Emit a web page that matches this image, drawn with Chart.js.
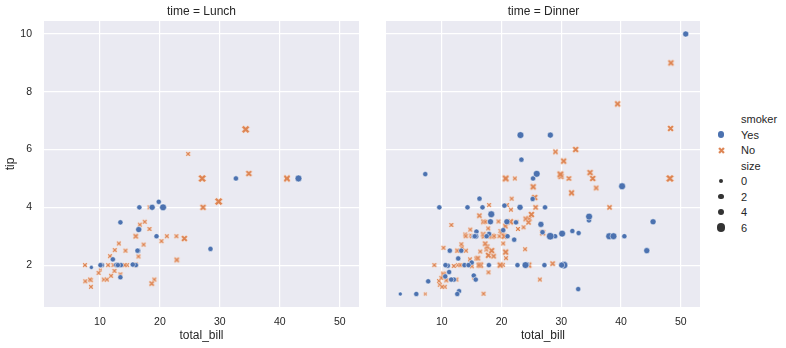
<!DOCTYPE html>
<html>
<head>
<meta charset="utf-8">
<script src="https://cdn.jsdelivr.net/npm/chart.js@4.4.0/dist/chart.umd.min.js"></script>
<style>
  body { margin: 0; background: #fff; font-family: "Liberation Sans", Arial, sans-serif; color: #262626; }
  #wrap { position: relative; width: 786px; height: 348px; overflow: hidden; }
  #wrap canvas.panel { position: absolute; top: 0; }
  .title { position: absolute; top: 4px; font-size: 12px; line-height: 14px; transform: translateX(-50%); white-space: nowrap; }
  .lg { position: absolute; left: 741px; font-size: 11px; line-height: 14px; white-space: nowrap; }
  .dot { position: absolute; border-radius: 50%; }
</style>
</head>
<body>
<div id="wrap">
  <canvas id="lunch" class="panel" width="365" height="348" style="left:0px"></canvas>
  <canvas id="dinner" class="panel" width="325" height="348" style="left:380px"></canvas>
  <div class="title" style="left:201.5px">time = Lunch</div>
  <div class="title" style="left:543.5px">time = Dinner</div>
  <div id="legend"></div>
</div>
<script>
// tips data, split by time and smoker
let lunchYesBill = [19.44, 32.68, 16.0, 19.81, 28.44, 15.48, 16.58, 10.34, 43.11, 13.0, 13.51, 18.71, 12.74, 13.0, 16.4, 20.53, 16.47, 12.16, 13.42, 8.58, 13.42, 16.27, 10.09];
let lunchYesTip  = [3.0, 5.0, 2.0, 4.19, 2.56, 2.02, 4.0, 2.0, 5.0, 2.0, 2.0, 4.0, 2.01, 2.0, 2.5, 4.0, 3.23, 2.2, 3.48, 1.92, 1.58, 2.5, 2.0];
let lunchYesSize = [2, 2, 2, 2, 2, 2, 2, 2, 4, 2, 2, 3, 2, 2, 2, 4, 3, 2, 2, 1, 2, 2, 2];

let lunchNoBill = [27.2, 22.76, 17.29, 16.66, 10.07, 15.98, 34.83, 13.03, 18.28, 24.71, 21.16, 10.65, 12.43, 24.08, 11.69, 13.42, 14.26, 15.95, 12.48, 29.8, 8.52, 14.52, 11.38, 22.82, 19.08, 20.27, 11.17, 12.26, 18.26, 8.51, 10.33, 14.15, 13.16, 17.47, 34.3, 41.19, 27.05, 16.43, 8.35, 18.64, 11.87, 9.78, 7.51, 7.56, 15.98];
let lunchNoTip  = [4.0, 3.0, 2.71, 3.4, 1.83, 2.03, 5.17, 2.0, 4.0, 5.85, 3.0, 1.5, 1.8, 2.92, 2.31, 1.68, 2.5, 2.0, 2.52, 4.2, 1.48, 2.0, 2.0, 2.18, 1.5, 2.83, 1.5, 2.0, 3.25, 1.25, 2.0, 2.0, 2.75, 3.5, 6.7, 5.0, 5.0, 2.3, 1.5, 1.36, 1.63, 1.73, 2.0, 1.44, 3.0];
let lunchNoSize = [4, 2, 2, 2, 1, 2, 4, 2, 2, 2, 2, 2, 2, 4, 2, 2, 2, 2, 2, 6, 2, 2, 2, 3, 2, 2, 2, 2, 2, 2, 2, 2, 2, 2, 6, 5, 6, 2, 2, 3, 2, 2, 2, 2, 3];

let dinnerYesBill = [38.01, 11.24, 20.29, 13.81, 11.02, 18.29, 3.07, 15.01, 26.86, 25.28, 17.92, 28.97, 5.75, 16.32, 40.17, 27.28, 12.03, 21.01, 11.35, 15.38, 44.3, 22.42, 15.36, 20.49, 25.21, 14.31, 17.51, 10.59, 10.63, 50.81, 15.81, 7.25, 31.85, 16.82, 32.9, 17.89, 14.48, 9.6, 34.63, 34.65, 23.33, 45.35, 23.17, 40.55, 20.9, 30.46, 18.15, 23.1, 15.69, 26.59, 38.73, 24.27, 12.76, 30.06, 25.89, 13.27, 28.17, 12.9, 28.15, 11.59, 7.74, 30.14, 22.12, 24.01, 15.69, 15.53, 12.6, 32.83, 27.18, 22.67];
let dinnerYesTip  = [3.0, 1.76, 3.21, 2.0, 1.98, 3.76, 1.0, 2.09, 3.14, 5.0, 3.08, 3.0, 1.0, 4.3, 4.73, 4.0, 1.5, 3.0, 2.5, 3.0, 2.5, 3.48, 1.64, 4.06, 4.29, 4.0, 3.0, 1.61, 2.0, 10.0, 3.16, 5.15, 3.18, 4.0, 3.11, 2.0, 2.0, 4.0, 3.55, 3.68, 5.65, 3.5, 6.5, 3.0, 3.5, 2.0, 3.5, 4.0, 1.5, 3.41, 3.0, 2.03, 2.23, 2.0, 5.16, 2.5, 6.5, 1.1, 3.0, 1.5, 1.44, 3.09, 2.88, 2.0, 3.0, 3.0, 1.0, 1.17, 2.0, 2.0];
let dinnerYesSize = [4, 2, 2, 2, 2, 4, 1, 2, 2, 2, 2, 2, 2, 2, 4, 2, 2, 2, 2, 2, 3, 2, 2, 2, 2, 2, 2, 2, 2, 3, 2, 2, 2, 2, 2, 2, 2, 2, 2, 4, 2, 3, 4, 2, 3, 5, 3, 3, 2, 3, 4, 2, 2, 3, 4, 2, 3, 2, 5, 2, 2, 4, 2, 4, 3, 2, 2, 2, 2, 2];

let dinnerNoBill = [16.99, 10.34, 21.01, 23.68, 24.59, 25.29, 8.77, 26.88, 15.04, 14.78, 10.27, 35.26, 15.42, 18.43, 14.83, 21.58, 10.33, 16.29, 16.97, 20.65, 17.92, 20.29, 15.77, 39.42, 19.82, 17.81, 13.37, 12.69, 21.7, 19.65, 9.55, 18.35, 15.06, 20.69, 17.78, 24.06, 16.31, 16.93, 18.69, 31.27, 16.04, 17.46, 13.94, 9.68, 30.4, 18.29, 22.23, 32.4, 28.55, 18.04, 12.54, 10.29, 34.81, 9.94, 25.56, 19.49, 26.41, 48.27, 17.59, 20.08, 16.45, 20.23, 12.02, 17.07, 14.73, 10.51, 22.49, 22.75, 12.46, 20.92, 18.24, 14.0, 7.25, 38.07, 23.95, 25.71, 17.31, 29.93, 14.07, 13.13, 17.26, 24.55, 19.77, 29.85, 48.17, 25.0, 13.39, 16.49, 21.5, 12.66, 16.21, 13.81, 24.52, 20.76, 31.71, 20.69, 48.33, 20.45, 13.28, 11.61, 10.77, 10.07, 35.83, 29.03, 17.82, 18.78];
let dinnerNoTip  = [1.01, 1.66, 3.5, 3.31, 3.61, 4.71, 2.0, 3.12, 1.96, 3.23, 1.71, 5.0, 1.57, 3.0, 3.02, 3.92, 1.67, 3.71, 3.5, 3.35, 4.08, 2.75, 2.23, 7.58, 3.18, 2.34, 2.0, 2.0, 4.3, 3.0, 1.45, 2.5, 3.0, 2.45, 3.27, 3.6, 2.0, 3.07, 2.31, 5.0, 2.24, 2.54, 3.06, 1.32, 5.6, 3.0, 5.0, 6.0, 2.05, 3.0, 2.5, 2.6, 5.2, 1.56, 4.34, 3.51, 1.5, 6.73, 2.64, 3.15, 2.47, 2.01, 1.97, 3.0, 2.2, 1.25, 3.5, 3.25, 1.5, 4.08, 3.76, 3.0, 1.0, 4.0, 2.55, 4.0, 3.5, 5.07, 2.5, 2.0, 2.74, 2.0, 2.0, 5.14, 5.0, 3.75, 2.61, 2.0, 3.5, 2.5, 2.0, 2.0, 3.48, 2.24, 4.5, 5.0, 9.0, 3.0, 2.72, 3.39, 1.47, 1.25, 4.67, 5.92, 1.75, 3.0];
let dinnerNoSize = [2, 3, 3, 2, 4, 4, 2, 4, 2, 2, 2, 4, 2, 4, 2, 2, 3, 3, 3, 3, 2, 2, 2, 4, 2, 4, 2, 2, 2, 2, 2, 4, 2, 4, 2, 3, 3, 3, 3, 3, 3, 2, 2, 2, 4, 2, 2, 4, 3, 2, 2, 2, 4, 2, 4, 2, 2, 4, 3, 3, 2, 2, 2, 3, 2, 2, 2, 2, 2, 2, 2, 2, 1, 3, 2, 3, 2, 4, 2, 2, 3, 4, 4, 5, 6, 4, 2, 4, 4, 2, 3, 2, 3, 2, 4, 5, 4, 4, 2, 2, 2, 2, 3, 3, 2, 2];

let xTicks = [10, 20, 30, 40, 50];
let yTicks = [2, 4, 6, 8, 10];
let legendSizes = [0, 2, 4, 6];

const BLUE = "#4c72b0";
const ORANGE = "#dd8452";
const FONT = "'Liberation Sans', Arial, sans-serif";

// marker area grows linearly with size (seaborn style), radius in px
function radius(s) {
  let area = 18 + (s - 1) * 54 / 5;
  return Math.sqrt(Math.max(area, 1)) * 0.967 / 2;
}

let xCache = {};
function xMarker(s) {
  if (xCache[s]) return xCache[s];
  let d = radius(s) * 2;
  let n = Math.ceil(d) + 2;
  let c = document.createElement("canvas");
  c.width = n; c.height = n;
  let g = c.getContext("2d");
  let pts = [[-1, -2], [0, -1], [1, -2], [2, -1], [1, 0], [2, 1], [1, 2], [0, 1], [-1, 2], [-2, 1], [-1, 0], [-2, -1]];
  g.translate(n / 2, n / 2);
  g.beginPath();
  pts.forEach(([px, py], i) => {
    let X = px * d / 4, Y = py * d / 4;
    if (i) g.lineTo(X, Y); else g.moveTo(X, Y);
  });
  g.closePath();
  g.fillStyle = ORANGE;
  g.fill();
  g.strokeStyle = "#fff";
  g.lineWidth = 0.5;
  g.stroke();
  xCache[s] = c;
  return c;
}

function points(bill, tip, size) {
  return bill.map((b, i) => ({ x: b, y: tip[i], s: size[i] }));
}

const bgPlugin = {
  id: "bg",
  beforeDraw(chart) {
    let a = chart.chartArea, ctx = chart.ctx;
    ctx.save();
    ctx.fillStyle = "#eaeaf2";
    ctx.fillRect(a.left, a.top, a.right - a.left, a.bottom - a.top);
    ctx.restore();
  }
};

function makePanel(id, yes, no, showY, padRight) {
  return new Chart(document.getElementById(id).getContext("2d"), {
    type: "scatter",
    data: {
      datasets: [
        {
          label: "Yes",
          data: yes,
          pointStyle: "circle",
          backgroundColor: BLUE,
          borderColor: "#fff",
          borderWidth: 0.5,
          pointRadius: (ctx) => radius(ctx.raw.s),
        },
        {
          label: "No",
          data: no,
          pointStyle: (ctx) => xMarker(ctx.raw.s),
          backgroundColor: ORANGE,
          borderColor: ORANGE,
        },
      ],
    },
    options: {
      responsive: false,
      animation: false,
      events: [],
      layout: { padding: { left: 0, top: 21, right: padRight, bottom: 0 } },
      plugins: { legend: { display: false }, tooltip: { enabled: false } },
      scales: {
        x: {
          type: "linear",
          min: 0.68,
          max: 53.2,
          afterBuildTicks: (scale) => { scale.ticks = xTicks.map((v) => ({ value: v })); },
          afterFit: (scale) => { scale.height = 41; },
          grid: { color: "#ffffff", lineWidth: 1.2, drawTicks: false },
          border: { display: false },
          ticks: { padding: 9, color: "#262626", font: { family: FONT, size: 10.5 } },
          title: { display: true, text: "total_bill", color: "#262626", padding: { top: 0, bottom: 5 }, font: { family: FONT, size: 12 } },
        },
        y: {
          type: "linear",
          min: 0.55,
          max: 10.45,
          afterBuildTicks: (scale) => { scale.ticks = yTicks.map((v) => ({ value: v })); },
          afterFit: (scale) => { scale.width = showY ? 44 : 6; },
          grid: { color: "#ffffff", lineWidth: 1.2, drawTicks: false },
          border: { display: false },
          ticks: { display: showY, padding: 12, color: "#262626", font: { family: FONT, size: 10.5 } },
          title: { display: showY, text: "tip", color: "#262626", padding: { top: 3, bottom: 0 }, font: { family: FONT, size: 12 } },
        },
      },
    },
    plugins: [bgPlugin],
  });
}

makePanel("lunch", points(lunchYesBill, lunchYesTip, lunchYesSize), points(lunchNoBill, lunchNoTip, lunchNoSize), true, 6);
makePanel("dinner", points(dinnerYesBill, dinnerYesTip, dinnerYesSize), points(dinnerNoBill, dinnerNoTip, dinnerNoSize), false, 4);

// legend
let wrap = document.getElementById("wrap");
function addText(txt, cy) {
  let d = document.createElement("div");
  d.className = "lg";
  d.style.top = (cy - 7) + "px";
  d.textContent = txt;
  wrap.appendChild(d);
}
function addDot(color, r, cy) {
  let d = document.createElement("div");
  d.className = "dot";
  d.style.background = color;
  d.style.width = d.style.height = (2 * r) + "px";
  d.style.left = (721 - r) + "px";
  d.style.top = (cy - r) + "px";
  wrap.appendChild(d);
}
let rowY = [119, 134.5, 150, 165.5, 181, 196.5, 212, 227.5];
addText("smoker", rowY[0]);
addDot(BLUE, 3.4, rowY[1]);
addText("Yes", rowY[1]);
let xm = xMarker(4);
let xc = document.createElement("canvas");
xc.width = xm.width; xc.height = xm.height;
xc.getContext("2d").drawImage(xm, 0, 0);
xc.style.position = "absolute";
xc.style.left = (721 - xm.width / 2) + "px";
xc.style.top = (rowY[2] - xm.height / 2) + "px";
wrap.appendChild(xc);
addText("No", rowY[2]);
addText("size", rowY[3]);
legendSizes.forEach((s, i) => {
  addDot("#333333", Math.max(radius(s), 2.2), rowY[4 + i]);
  addText(String(s), rowY[4 + i]);
});
</script>
</body>
</html>
